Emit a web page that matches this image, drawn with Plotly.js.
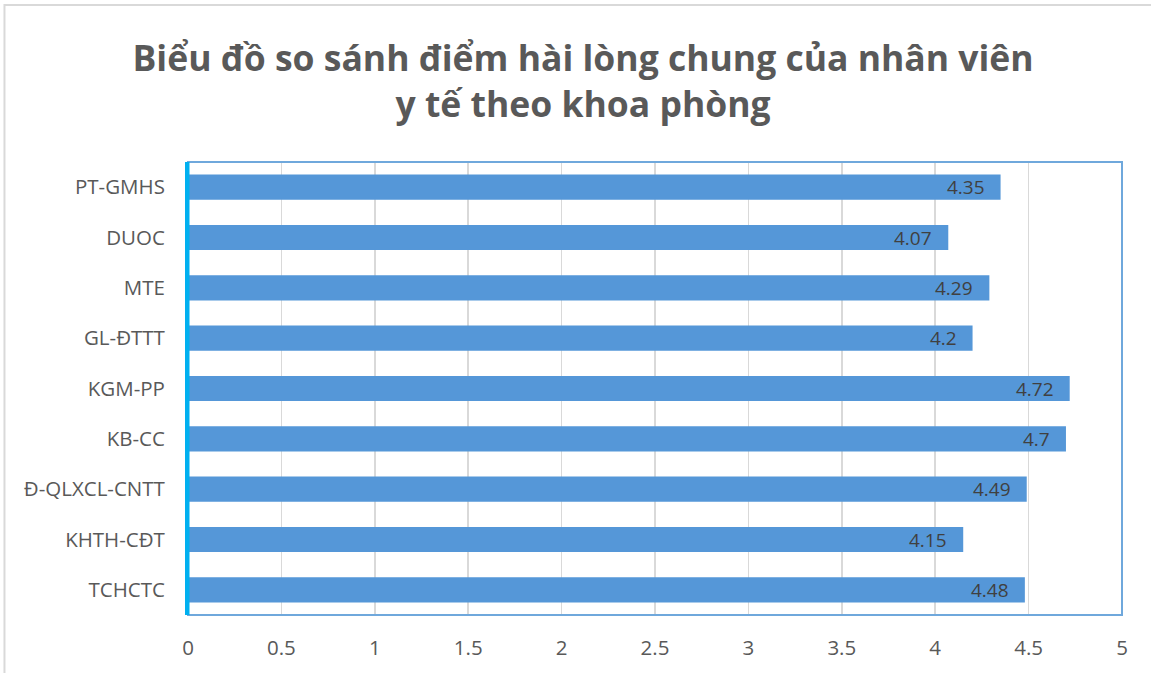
<!DOCTYPE html>
<html>
<head>
<meta charset="utf-8">
<script src="https://cdn.plot.ly/plotly-3.0.1.min.js"></script>
<style>html,body{margin:0;padding:0;background:#fff;}#chart{width:1151px;height:673px;}</style>
</head>
<body>
<div id="chart"></div>
<script>
var categories = ["TCHCTC", "KHTH-CĐT", "Đ-QLXCL-CNTT", "KB-CC", "KGM-PP", "GL-ĐTTT", "MTE", "DUOC", "PT-GMHS"];
var scores = [4.48, 4.15, 4.49, 4.7, 4.72, 4.2, 4.29, 4.07, 4.35];
var xTickVals = [0, 0.5, 1, 1.5, 2, 2.5, 3, 3.5, 4, 4.5, 5];
var xTickText = ["0", "0.5", "1", "1.5", "2", "2.5", "3", "3.5", "4", "4.5", "5"];
var titleText = "Biểu đồ so sánh điểm hài lòng chung của nhân viên<br>y tế theo khoa phòng";

var FONT = "Open Sans, Noto Sans, sans-serif";
var trace = {
  type: "bar",
  orientation: "h",
  y: categories,
  x: scores,
  marker: {color: "#5597d8", line: {width: 0}},
  hoverinfo: "x+y"
};

var labels = categories.map(function (c, i) {
  return {
    x: scores[i], y: c, xref: "x", yref: "y",
    text: String(scores[i]), showarrow: false,
    xanchor: "right", yanchor: "middle", xshift: -14,
    font: {family: FONT, size: 19, color: "#404040"}
  };
});

var layout = {
  width: 1151, height: 673,
  margin: {l: 188, r: 29, t: 162, b: 58},
  paper_bgcolor: "#ffffff",
  plot_bgcolor: "#ffffff",
  showlegend: false,
  bargap: 0.5,
  title: {
    text: titleText,
    font: {family: FONT, size: 35.5, color: "#595959", weight: "bold"},
    xref: "paper", x: 0.423, xanchor: "center",
    yref: "container", y: 0.895, yanchor: "top"
  },
  xaxis: {
    range: [0, 5],
    tickvals: xTickVals, ticktext: xTickText,
    showgrid: true, gridcolor: "#d9d9d9", gridwidth: 1.5,
    zeroline: false, showline: false,
    ticks: "", ticklen: 0,
    tickfont: {family: FONT, size: 20.5, color: "#595959"},
    ticklabelstandoff: 18,
    automargin: false
  },
  yaxis: {
    type: "category",
    categoryorder: "array", categoryarray: categories,
    range: [-0.5, 8.5],
    showgrid: false, zeroline: false,
    showline: true, linecolor: "#00b0f0", linewidth: 3,
    ticks: "", ticklen: 0,
    tickfont: {family: FONT, size: 20.5, color: "#595959"},
    ticklabelstandoff: 16,
    automargin: false
  },
  annotations: labels,
  shapes: [
    {type: "rect", xref: "paper", yref: "paper", x0: 0, x1: 1, y0: 0, y1: 1,
     line: {color: "#6fa8dc", width: 2}, fillcolor: "rgba(0,0,0,0)", layer: "above"},
    {type: "line", xref: "paper", yref: "paper", x0: 0, x1: 0, y0: 0, y1: 1,
     line: {color: "#00b0f0", width: 3}, layer: "above"},
    {type: "rect", xref: "paper", yref: "paper", x0: -0.1965, x1: 1.05, y0: -0.15, y1: 1.3466,
     line: {color: "#d9d9d9", width: 2}, fillcolor: "rgba(0,0,0,0)", layer: "below"}
  ]
};

Plotly.newPlot("chart", [trace], layout, {displayModeBar: false, staticPlot: true});
</script>
</body>
</html>
